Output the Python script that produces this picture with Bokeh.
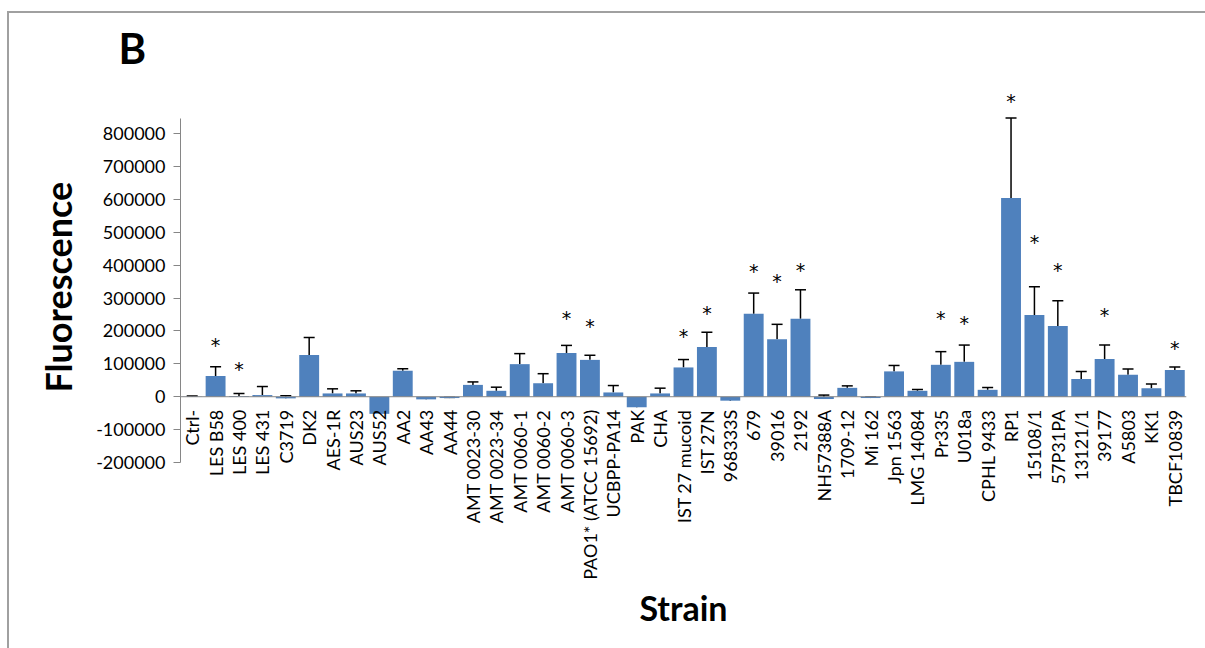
import math
from bokeh.plotting import figure
from bokeh.models import (ColumnDataSource, Range1d, FactorRange, FixedTicker, Span,
                          Whisker, TeeHead, Label, Title)
from bokeh.core.properties import value
from bokeh.embed import file_html
from bokeh.resources import INLINE

strains = ["Ctrl-", "LES B58", "LES 400", "LES 431", "C3719", "DK2", "AES-1R", "AUS23",
           "AUS52", "AA2", "AA43", "AA44", "AMT 0023-30", "AMT 0023-34", "AMT 0060-1",
           "AMT 0060-2", "AMT 0060-3", "PAO1* (ATCC 15692)", "UCBPP-PA14", "PAK", "CHA",
           "IST 27 mucoid", "IST 27N", "968333S", "679", "39016", "2192", "NH57388A",
           "1709-12", "Mi 162", "Jpn 1563", "LMG 14084", "Pr335", "U018a", "CPHL 9433",
           "RP1", "15108/1", "57P31PA", "13121/1", "39177", "A5803", "KK1", "TBCF10839"]

fluorescence = [1000, 63000, 2000, 5000, -5000, 127000, 10000, 10000,
                -52000, 79000, -8000, -4000, 36000, 18000, 99000,
                41000, 133000, 112000, 13000, -32000, 10000,
                89000, 151000, -12000, 252000, 175000, 237000, -7000,
                27000, -4000, 77000, 18000, 97000, 106000, 21000,
                604000, 248000, 215000, 54000, 115000, 67000, 26000, 81000]

errors = [1000, 28000, 8000, 26000, 8000, 53000, 14000, 8000,
          38000, 6000, 4000, 2000, 9000, 11000, 32000,
          29000, 23000, 14000, 21000, 13000, 16000,
          24000, 45000, 6000, 63000, 45000, 88000, 12000,
          6000, 3000, 18000, 4000, 40000, 51000, 7000,
          243000, 86000, 77000, 23000, 42000, 17000, 13000, 9000]

star_strains = ["LES B58", "LES 400", "AMT 0060-3", "PAO1* (ATCC 15692)", "IST 27 mucoid",
                "IST 27N", "679", "39016", "2192", "Pr335", "U018a", "RP1", "15108/1",
                "57P31PA", "39177", "TBCF10839"]
star_levels = [164000, 91000, 246000, 222000, 191000, 261000, 389000, 359000, 392000,
               246000, 231000, 906000, 477000, 392000, 255000, 155000]

y_ticks = [-200000, -100000, 0, 100000, 200000, 300000, 400000, 500000, 600000, 700000, 800000]

FONT = "Lato"
BLUE = "#4F81BD"
GRAY = "#868686"
BORDER = "#a0a0a0"

upper = [v + e for v, e in zip(fluorescence, errors)]
src = ColumnDataSource(dict(x=strains, top=fluorescence, upper=upper,
                            zero=[0] * len(strains)))

FRAME_H = 565
p = figure(x_range=FactorRange(*strains, range_padding=0),
           y_range=Range1d(-756000, 961000),
           frame_width=1006, frame_height=FRAME_H,
           min_border_left=180, min_border_right=19, min_border_top=80, min_border_bottom=3,
           output_backend="svg", toolbar_location=None)
p.outline_line_color = None
p.xgrid.visible = False
p.ygrid.visible = False
p.xaxis.visible = False
p.background_fill_color = "white"
p.border_fill_alpha = 0
# outer chart border (left and top edges of the chart area)
p.styles = {
    "background-color": "white",
    "background-image": f"linear-gradient({BORDER},{BORDER}), linear-gradient({BORDER},{BORDER})",
    "background-position": "7px 11px, 7px 11px",
    "background-size": "2px 100%, 100% 2px",
    "background-repeat": "no-repeat",
}

# y axis
p.yaxis.ticker = FixedTicker(ticks=y_ticks)
p.yaxis.major_label_overrides = {t: str(t) for t in y_ticks}
p.yaxis.bounds = (-200000, 845000)
p.yaxis.axis_line_color = GRAY
p.yaxis.major_tick_line_color = GRAY
p.yaxis.major_tick_out = 7
p.yaxis.major_tick_in = 0
p.yaxis.minor_tick_line_color = None
p.yaxis.major_label_standoff = 8
p.yaxis.major_label_text_font = FONT
p.yaxis.major_label_text_font_size = "18px"
p.yaxis.major_label_text_color = "black"

# y axis title
p.add_layout(Title(text="Fluorescence", align="left", offset=253, vertical_align="middle",
                   standoff=26,
                   text_font=FONT, text_font_style="bold", text_font_size="36px",
                   text_color="black"), "left")

# panel letter
p.add_layout(Title(text="B", align="left", offset=-62, standoff=16,
                   text_font=FONT, text_font_style="bold", text_font_size="42px",
                   text_color="black"), "above")

# bars
p.vbar(x="x", top="top", bottom=0, width=0.85, source=src, fill_color=BLUE, line_color=None)

# zero line (category axis)
p.add_layout(Span(location=0, dimension="width", line_color=GRAY, line_width=1))

# error bars (plus direction)
p.add_layout(Whisker(base="x", lower="top", upper="upper", source=src,
                     line_color="black", line_width=1.5,
                     upper_head=TeeHead(size=11, line_color="black", line_width=1.5),
                     lower_head=None))

# category labels
p.text(x="x", y="zero", text="x", source=src, angle=math.pi / 2,
       text_align="right", text_baseline="middle", y_offset=13,
       text_font=value(FONT), text_font_size="18px", text_color="black")

# significance asterisks
p.text(x=star_strains, y=star_levels, text=["*"] * len(star_strains),
       text_align="center", text_baseline="middle", y_offset=2,
       text_font=value("DejaVu Sans"), text_font_size="19px", text_color="black")

# axis title "Strain"
p.add_layout(Label(x=503, x_units="screen", y=38, y_units="screen", text="Strain",
                   text_align="center", text_baseline="middle",
                   text_font=FONT, text_font_style="bold", text_font_size="34px",
                   text_color="black"))

open("out.html", "w").write(file_html(p, INLINE))
